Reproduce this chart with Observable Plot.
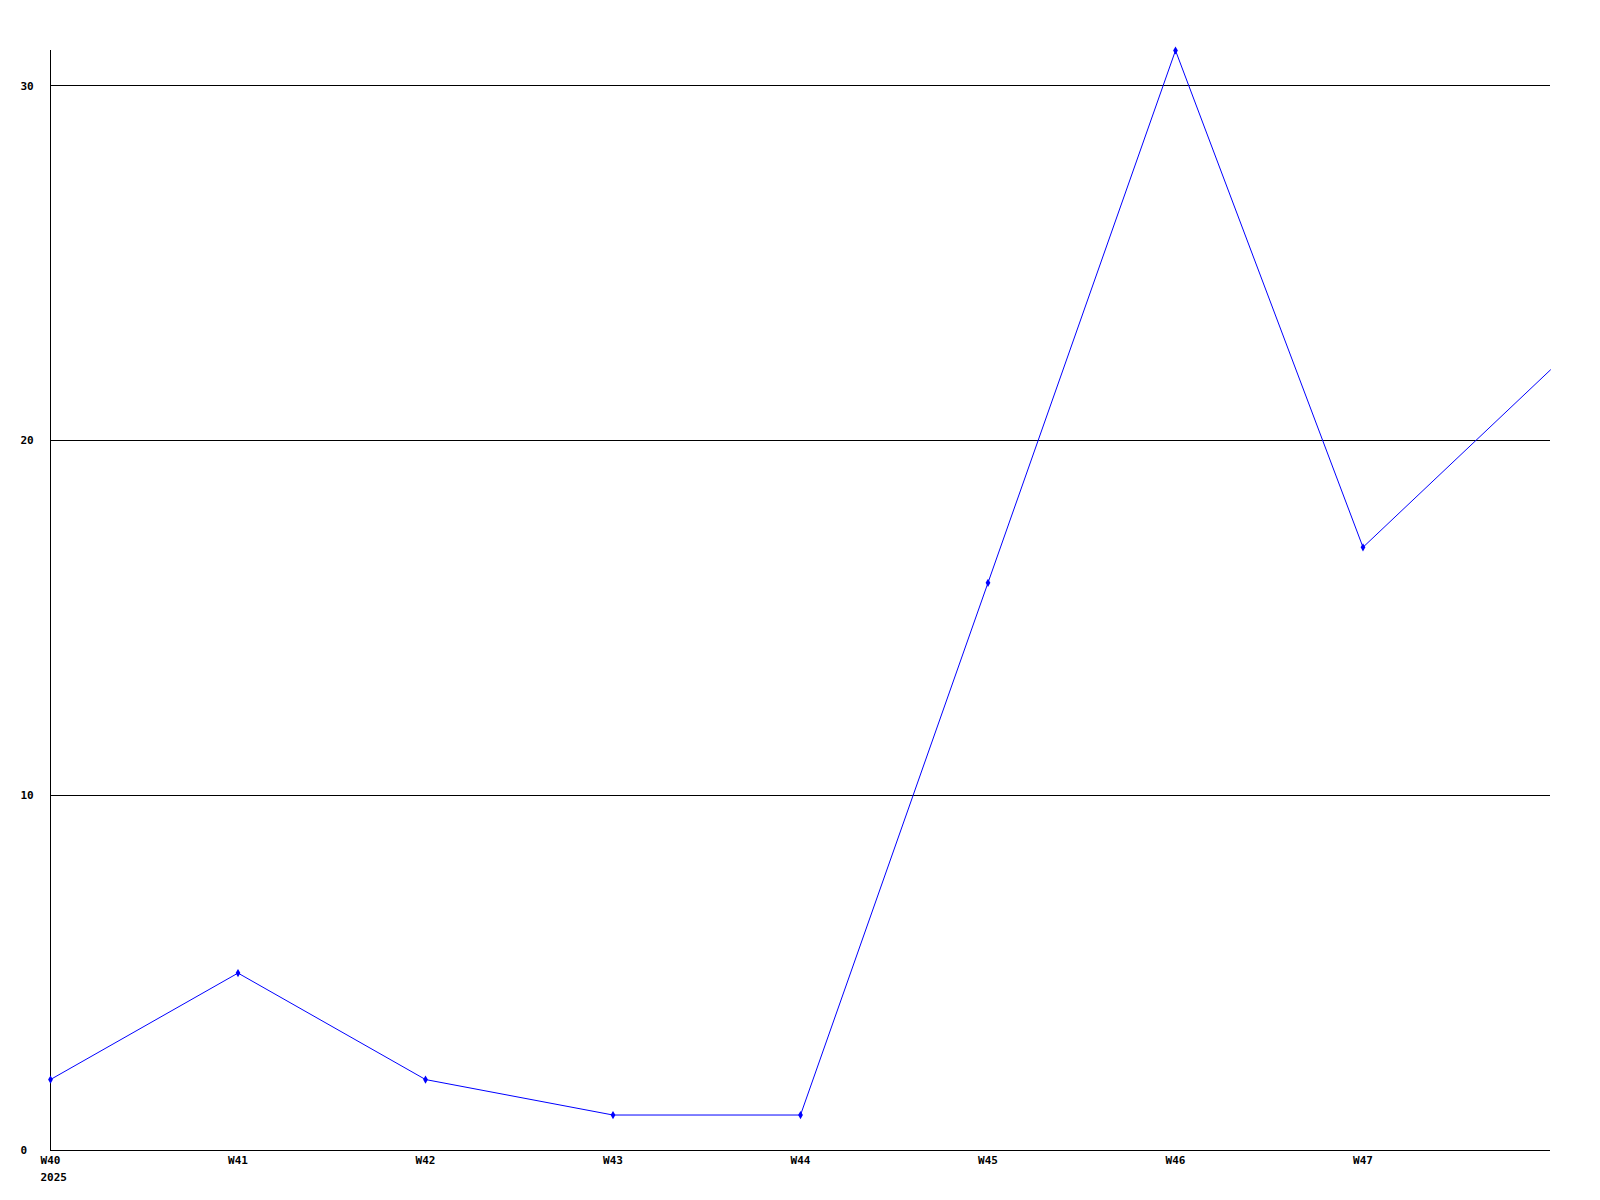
<!DOCTYPE html>
<html>
<head>
<meta charset="utf-8">
<script src="https://cdn.jsdelivr.net/npm/d3@7"></script>
<script src="https://cdn.jsdelivr.net/npm/@observablehq/plot@0.6"></script>
<style>
  html, body { margin: 0; padding: 0; background: #fff; }
  svg { display: block; }
</style>
</head>
<body>
<div id="chart"></div>
<script>
const weeks = [40, 41, 42, 43, 44, 45, 46, 47, 48];
const values = [2, 5, 2, 1, 1, 16, 31, 17, 22];
const xTicks = [40, 41, 42, 43, 44, 45, 46, 47];
const yTicks = [0, 10, 20, 30];
const gridValues = [10, 20, 30];
const yearLabel = "2025";

const data = weeks.map((w, i) => ({week: w, value: values[i]}));
const shown = data.filter(d => xTicks.includes(d.week));

const font = "'DejaVu Sans Mono', monospace";

const chart = Plot.plot({
  width: 1600,
  height: 1200,
  marginLeft: 50,
  marginRight: 50,
  marginTop: 50,
  marginBottom: 50,
  style: {fontFamily: font, fontSize: "11px", fontWeight: "bold", color: "#000", background: "#fff"},
  x: {domain: [40, 48]},
  y: {domain: [0, 31]},
  marks: [
    Plot.gridY(gridValues, {stroke: "#000", strokeOpacity: 1, strokeWidth: 1, shapeRendering: "crispEdges"}),
    Plot.ruleX([40], {stroke: "#000", shapeRendering: "crispEdges"}),
    Plot.ruleY([0], {stroke: "#000", shapeRendering: "crispEdges"}),
    Plot.axisY(yTicks, {tickSize: 0, tickPadding: 0, textAnchor: "start", dx: -30, label: null, fill: "#000"}),
    Plot.axisX(xTicks, {tickSize: 0, tickPadding: 6, tickFormat: d => "W" + d, label: null, fill: "#000"}),
    Plot.text([{week: 40, value: 0}], {x: "week", y: "value", text: () => yearLabel, textAnchor: "start", dx: -10, dy: 27, fill: "#000"}),
    Plot.line(data, {x: "week", y: "value", stroke: "#0000ff", strokeWidth: 1}),
    Plot.dot(shown, {x: "week", y: "value", symbol: "diamond", r: 2.5, fill: "#0000ff", stroke: "none"})
  ]
});
document.getElementById("chart").appendChild(chart);
</script>
</body>
</html>
